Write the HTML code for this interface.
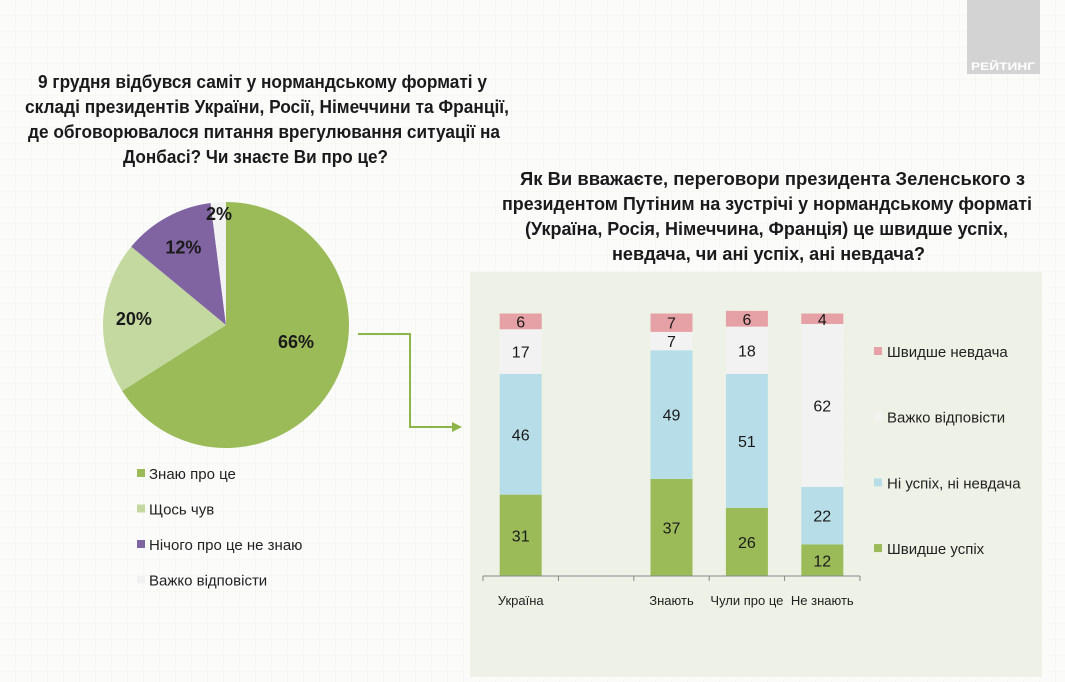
<!DOCTYPE html>
<html><head><meta charset="utf-8"><style>
html,body{margin:0;padding:0;background:#fff;}
svg{display:block;font-family:"Liberation Sans Narrow","Liberation Sans","Noto Sans CJK SC",sans-serif;}
</style></head><body>
<svg id="root" width="1065" height="682" viewBox="0 0 1065 682">
<defs>
<pattern id="grid" width="16" height="16" patternUnits="userSpaceOnUse"><path d="M16 0V16M0 16H16" stroke="#e8ebe4" stroke-width="0.6" fill="none"/></pattern>
</defs>
<rect width="1065" height="682" fill="#fbfcfa"/>
<rect width="1065" height="682" fill="url(#grid)"/>
<rect x="470" y="272" width="572" height="405" fill="#eef2e6"/>
<rect x="470" y="272" width="572" height="405" fill="url(#grid)" opacity="0.6"/>
<g>
<rect x="967" y="0" width="73" height="74" fill="#d3d3d3"/>
<text x="1003" y="70" font-size="11" font-weight="bold" fill="#fff" text-anchor="middle" textLength="64" lengthAdjust="spacingAndGlyphs">РЕЙТИНГ</text>
</g>
<g font-size="18" font-weight="bold" fill="#1a1a1a">
<text x="38" y="88" textLength="449" lengthAdjust="spacingAndGlyphs">9 грудня відбувся саміт у нормандському форматі у</text>
<text x="25" y="113" textLength="484" lengthAdjust="spacingAndGlyphs">складі президентів України, Росії, Німеччини та Франції,</text>
<text x="28" y="138" textLength="472" lengthAdjust="spacingAndGlyphs">де обговорювалося питання врегулювання ситуації на</text>
<text x="123" y="163" textLength="265" lengthAdjust="spacingAndGlyphs">Донбасі? Чи знаєте Ви про це?</text>
</g>
<g font-size="18" font-weight="bold" fill="#1a1a1a">
<text x="520" y="185" textLength="505" lengthAdjust="spacingAndGlyphs">Як Ви вважаєте, переговори президента Зеленського з</text>
<text x="502" y="210" textLength="530" lengthAdjust="spacingAndGlyphs">президентом Путіним на зустрічі у нормандському форматі</text>
<text x="525" y="235" textLength="483" lengthAdjust="spacingAndGlyphs">(Україна, Росія, Німеччина, Франція) це швидше успіх,</text>
<text x="612" y="260" textLength="313" lengthAdjust="spacingAndGlyphs">невдача, чи ані успіх, ані невдача?</text>
</g>
<g id="pie"></g>
<g id="pieLegend"></g>
<g>
<polyline points="358,334 410,334 410,427 452,427" fill="none" stroke="#8db54a" stroke-width="2"/>
<polygon points="452,422 462,427 452,432" fill="#8db54a"/>
</g>
<g id="bars"></g>
<g id="barLegend"></g>
</svg>
<script>
const pieLabels = ["Знаю про це","Щось чув","Нічого про це не знаю","Важко відповісти"];
const pieValues = [66,20,12,2];
const pieColors = ["#9bbb59","#c4d9a0","#8064a2","#f2f2f2"];
const categories = ["Україна","","Знають","Чули про це","Не знають"];
const seriesNames = ["Швидше успіх","Ні успіх, ні невдача","Важко відповісти","Швидше невдача"];
const successVals = [31,null,37,26,12];
const neutralVals = [46,null,49,51,22];
const hardVals = [17,null,7,18,62];
const failVals = [6,null,7,6,4];
const seriesColors = ["#9bbb59","#b7dee8","#f2f2f2","#e6a1a6"];

const NS="http://www.w3.org/2000/svg";
function mk(tag,attrs,parent){const e=document.createElementNS(NS,tag);for(const k in attrs)e.setAttribute(k,attrs[k]);parent.appendChild(e);return e;}

// Pie
const pie=document.getElementById('pie');
const cx=226,cy=325,r=123;
const total=pieValues.reduce((a,b)=>a+b,0);
let acc=0;
const labelPos=[[0.58,0],[0.75,0],[0.72,0],[0.92,0]];
pieValues.forEach((v,i)=>{
  const a0=acc/total*2*Math.PI; acc+=v; const a1=acc/total*2*Math.PI;
  const x0=cx+r*Math.sin(a0),y0=cy-r*Math.cos(a0),x1=cx+r*Math.sin(a1),y1=cy-r*Math.cos(a1);
  const large=(a1-a0)>Math.PI?1:0;
  const p=mk('path',{d:`M${cx},${cy}L${x0},${y0}A${r},${r} 0 ${large} 1 ${x1},${y1}Z`,fill:pieColors[i]},pie);
  
  
  const am=(a0+a1)/2, f=labelPos[i][0];
  let lx=cx+r*f*Math.sin(am), ly=cy-r*f*Math.cos(am);
  if(i===3){lx=219;ly=214;}
  if(i===0){lx=296;ly=342;}
  const t=mk('text',{x:lx,y:ly+6,'font-size':18,'font-weight':'bold','text-anchor':'middle',fill:'#1a1a1a'},pie);
  t.textContent=v+'%';
  
  
});
const pl=document.getElementById('pieLegend');
pieLabels.forEach((lab,i)=>{
  const y=474+i*35.5;
  const s=mk('rect',{x:137,y:y-5,width:8,height:8,fill:pieColors[i]},pl);
  
  
  const t=mk('text',{x:149,y:y+5,'font-size':15,fill:'#222'},pl);
  t.textContent=lab;
  
  
});

// Bars
const bars=document.getElementById('bars');
const x0=483,catW=75.4,baseY=576,scale=2.625,bw=42;
function xC(i){return x0+catW*(i+0.5);}
function yV(v){return baseY-v*scale;}
const allSeries=[successVals,neutralVals,hardVals,failVals];
categories.forEach((c,i)=>{
  let cum=0;
  allSeries.forEach((ser,s)=>{
    const v=ser[i]; if(v==null)return;
    const yt=yV(cum+v), yb=yV(cum);
    const b=mk('rect',{x:xC(i)-bw/2,y:yt,width:bw,height:yb-yt,fill:seriesColors[s]},bars);
    
    
    const t=mk('text',{x:xC(i),y:(yt+yb)/2+6,'font-size':16,'text-anchor':'middle',fill:'#1a1a1a'},bars);
    t.textContent=v;
    
    
    cum+=v;
  });
  const lt=mk('text',{x:xC(i),y:605,'font-size':13,'text-anchor':'middle',fill:'#222'},bars);
  lt.textContent=c;
  
  
});
mk('line',{x1:x0,y1:baseY,x2:x0+catW*categories.length,y2:baseY,stroke:'#888','stroke-width':1},bars);
for(let i=0;i<=categories.length;i++){
  const tk=mk('line',{x1:x0+catW*i,y1:baseY,x2:x0+catW*i,y2:baseY+5,stroke:'#888','stroke-width':1},bars);
  
  
}
const bl=document.getElementById('barLegend');
[3,2,1,0].forEach((s,k)=>{
  const y=352+k*65.7;
  const sw=mk('rect',{x:874,y:y-5,width:8,height:8,fill:seriesColors[s]},bl);
  
  
  const t=mk('text',{x:887,y:y+5,'font-size':15,fill:'#222'},bl);
  t.textContent=seriesNames[s];
  
  
});
</script>
</body></html>
